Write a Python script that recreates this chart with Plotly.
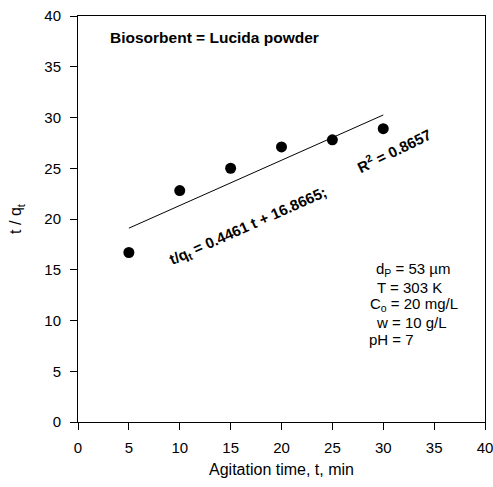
import plotly.graph_objects as go

t_vals = [5, 10, 15, 20, 25, 30]
tq_vals = [16.7, 22.8, 25.0, 27.1, 27.8, 28.9]
slope = 0.4461
intercept = 16.8665
fit_x = [5, 30]
fit_y = [slope * x + intercept for x in fit_x]

FONT = "Liberation Sans, Arial, sans-serif"

fig = go.Figure()
fig.add_trace(go.Scatter(x=fit_x, y=fit_y, mode="lines",
                         line=dict(color="black", width=1), showlegend=False))
fig.add_trace(go.Scatter(x=t_vals, y=tq_vals, mode="markers",
                         marker=dict(color="black", size=11), showlegend=False))

ann = []
ann.append(dict(x=2.9, y=37.9, xref="x", yref="y", text="<b>Biosorbent = Lucida powder</b>",
                showarrow=False, xanchor="left", font=dict(size=15.5, color="black", family=FONT)))
ann.append(dict(x=16.7, y=19.3, xref="x", yref="y",
                text="<b>t/q<sub>t</sub> = 0.4461 t + 16.8665;</b>", textangle=-24,
                showarrow=False, font=dict(size=15, color="black", family=FONT)))
ann.append(dict(x=31.1, y=26.8, xref="x", yref="y",
                text="<b>R<sup>2</sup> = 0.8657</b>", textangle=-26,
                showarrow=False, font=dict(size=15, color="black", family=FONT)))
info = [("d<sub>P</sub> = 53 µm", 32.9, 15.0, "center"),
        ("T = 303 K", 32.6, 13.3, "center"),
        ("C<sub>o</sub> = 20 mg/L", 33.0, 11.6, "center"),
        ("w = 10 g/L", 32.8, 9.85, "center"),
        ("pH = 7", 28.4, 8.1, "left")]
for txt, x, y, anc in info:
    ann.append(dict(x=x, y=y, xref="x", yref="y", text=txt, showarrow=False,
                    xanchor=anc, font=dict(size=15, color="black", family=FONT)))

fig.update_layout(
    width=493, height=487,
    margin=dict(l=78, r=8, t=16, b=65, autoexpand=False),
    paper_bgcolor="white", plot_bgcolor="white",
    font=dict(family=FONT, size=15, color="black"),
    annotations=ann,
    xaxis=dict(range=[0, 40], tickvals=list(range(0, 41, 5)), ticks="outside",
               ticklen=7, tickcolor="black", showline=True, linecolor="black",
               linewidth=1, mirror=True, showgrid=False, zeroline=False,
               ticklabeloverflow="allow", automargin=False, ticklabelstandoff=5,
               title=dict(text="Agitation time, t, min", font=dict(size=16), standoff=8),
               tickfont=dict(size=15)),
    yaxis=dict(range=[0, 40], tickvals=list(range(0, 41, 5)), ticks="outside",
               ticklen=7, tickcolor="black", showline=True, linecolor="black",
               linewidth=1, mirror=True, showgrid=False, zeroline=False,
               ticklabeloverflow="allow", automargin=False, ticklabelstandoff=6,
               title=dict(text="t / q<sub>t</sub>", font=dict(size=16), standoff=18),
               tickfont=dict(size=15)),
)
fig.write_html("out.html")
